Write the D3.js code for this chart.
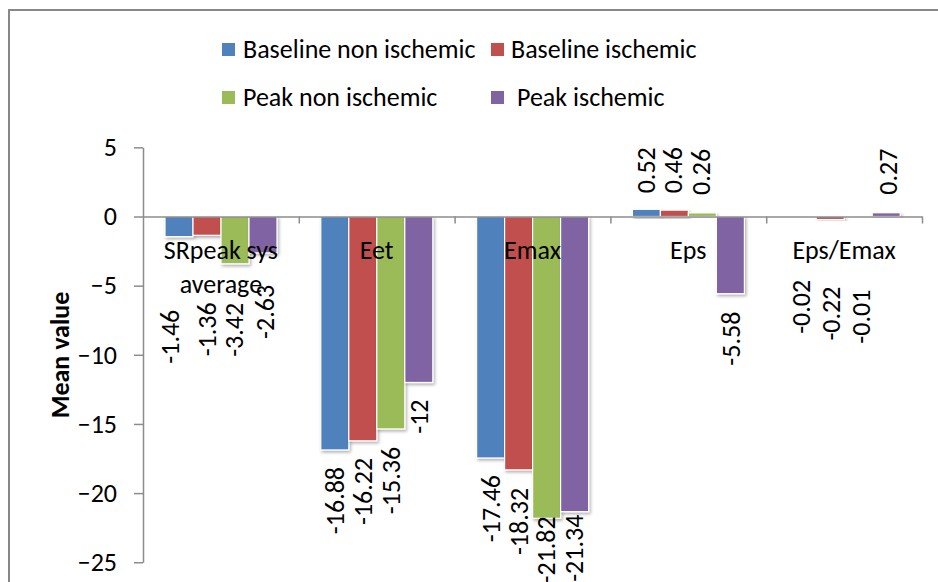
<!DOCTYPE html>
<html>
<head>
<meta charset="utf-8">
<script src="https://cdn.jsdelivr.net/npm/d3@7"></script>
<style>
  html, body { margin: 0; padding: 0; background: #fff; }
  svg { display: block; }
  text { font-family: Carlito, Calibri, Lato, "Open Sans", sans-serif; fill: #000; }
</style>
</head>
<body>
<svg id="chart" width="938" height="582"></svg>
<script>
// ---- data ----
const categories = ["SRpeak sys average", "Eet", "Emax", "Eps", "Eps/Emax"];
const seriesNames = ["Baseline non ischemic", "Baseline ischemic", "Peak non ischemic", "Peak ischemic"];
const baselineNonIschemic = [-1.46, -16.88, -17.46, 0.52, -0.02];
const baselineIschemic    = [-1.36, -16.22, -18.32, 0.46, -0.22];
const peakNonIschemic     = [-3.42, -15.36, -21.82, 0.26, -0.01];
const peakIschemic        = [-2.63, -12, -21.34, -5.58, 0.27];
const yTicks = [5, 0, -5, -10, -15, -20, -25];
const yTitle = "Mean value";

// ---- label placement (px gap from bar end, px x shift) ----
const labelGap = [
  [73, 17, 17, 16, 63],
  [67, 17, 18, 17, 67],
  [39, 18, -2, 18, 73],
  [32, 17, 3, 18, 18]
];
const labelDx = [
  [-8, 1, 1, 1, 0],
  [1, 1, 1, 0, 2],
  [0, 1, 0, 0, 4],
  [3, 1, 0, 2, 3]
];

const colors = ["#4F81BD", "#C0504D", "#9BBB59", "#8064A2"];
const seriesValues = [baselineNonIschemic, baselineIschemic, peakNonIschemic, peakIschemic];

const svg = d3.select("#chart");
const FS = 26;

// drop shadow
const defs = svg.append("defs");
const f = defs.append("filter").attr("id", "shadow").attr("x", "-20%").attr("y", "-20%").attr("width", "150%").attr("height", "150%");
f.append("feDropShadow").attr("dx", 1.5).attr("dy", 2).attr("stdDeviation", 1.5)
  .attr("flood-color", "#000").attr("flood-opacity", 0.3);

// frame
svg.append("rect").attr("x", 9).attr("y", 10).attr("width", 960).attr("height", 620)
  .attr("fill", "none").attr("stroke", "#888").attr("stroke-width", 2);

// scales
const plotLeft = 143, plotRight = 922;
const x = d3.scaleBand().domain(categories).range([plotLeft, plotRight]).paddingInner(0).paddingOuter(0);
const x1 = d3.scaleBand().domain(seriesNames).range([22, 134]).padding(0);
const y = d3.scaleLinear().domain([-25, 5]).range([562.25, 147.35]);

// bars
const groups = svg.append("g").selectAll("g").data(categories).join("g")
  .attr("transform", c => `translate(${x(c)},0)`);

seriesNames.forEach((s, si) => {
  groups.append("rect")
    .attr("x", x1(s))
    .attr("width", x1.bandwidth())
    .attr("y", (c, ci) => Math.min(y(seriesValues[si][ci]), y(0)))
    .attr("height", (c, ci) => Math.abs(y(seriesValues[si][ci]) - y(0)))
    .attr("fill", colors[si])
    .attr("stroke", "#fff")
    .attr("stroke-width", 1.2)
    .attr("filter", "url(#shadow)");
});

// y axis
const yAxis = svg.append("g").attr("transform", `translate(${plotLeft},0)`)
  .call(d3.axisLeft(y).tickValues(yTicks).tickSize(9).tickSizeOuter(0).tickPadding(17));
yAxis.selectAll("path, line").attr("stroke", "#8c8c8c").attr("stroke-width", 1.5);
yAxis.selectAll("text").attr("font-size", FS).attr("font-family", null).attr("fill", "#000");

// x axis (zero line with boundary ticks)
const xb = d3.scaleLinear().domain([0, categories.length]).range([plotLeft, plotRight]);
const xAxis = svg.append("g").attr("transform", `translate(0,${y(0)})`)
  .call(d3.axisBottom(xb).tickValues(d3.range(1, categories.length + 1)).tickSize(7).tickSizeOuter(0).tickFormat(""));
xAxis.selectAll("path, line").attr("stroke", "#8c8c8c").attr("stroke-width", 1.5);

// category labels (wrapped)
const catG = svg.append("g");
categories.forEach(c => {
  const t = catG.append("text").attr("x", x(c) + x.bandwidth() / 2).attr("y", y(0) + 42)
    .attr("text-anchor", "middle").attr("font-size", FS);
  const words = c.split(" ");
  let line = [], lineNo = 0;
  let tspan = t.append("tspan").attr("x", x(c) + x.bandwidth() / 2).attr("dy", 0);
  words.forEach(w => {
    line.push(w);
    tspan.text(line.join(" "));
    if (tspan.node().getComputedTextLength() > 140 && line.length > 1) {
      line.pop();
      tspan.text(line.join(" "));
      line = [w];
      lineNo++;
      tspan = t.append("tspan").attr("x", x(c) + x.bandwidth() / 2).attr("dy", 34).text(w);
    }
  });
});

// data labels
seriesNames.forEach((s, si) => {
  categories.forEach((c, ci) => {
    const v = seriesValues[si][ci];
    const cx = x(c) + x1(s) + x1.bandwidth() / 2 + labelDx[si][ci];
    const gap = labelGap[si][ci];
    const py = v < 0 ? y(v) + gap : y(v) - gap;
    svg.append("text")
      .attr("transform", `translate(${cx + 8},${py}) rotate(-90)`)
      .attr("text-anchor", v < 0 ? "end" : "start")
      .attr("font-size", FS)
      .text(String(v));
  });
});

// y title
svg.append("text").attr("transform", `translate(69,355) rotate(-90)`)
  .attr("text-anchor", "middle").attr("font-size", FS).attr("font-weight", "bold").text(yTitle);

// legend
const legendPos = [[222, 43], [491, 43], [222, 91], [491, 91]];
const legendTextX = [243, 511, 243, 517];
seriesNames.forEach((s, i) => {
  svg.append("rect").attr("x", legendPos[i][0]).attr("y", legendPos[i][1]).attr("width", 13).attr("height", 13)
    .attr("fill", colors[i]);
  svg.append("text").attr("x", legendTextX[i]).attr("y", legendPos[i][1] + 15).attr("font-size", FS).text(s);
});
</script>
</body>
</html>
